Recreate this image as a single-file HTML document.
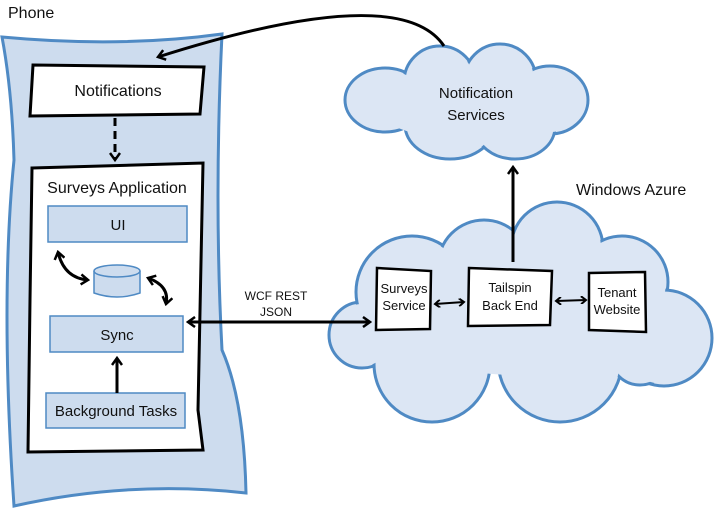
<!DOCTYPE html>
<html><head><meta charset="utf-8"><style>
html,body{margin:0;padding:0;background:#fff}
svg{display:block}
text{font-family:"Liberation Sans",sans-serif;fill:#111}
</style></head><body>
<svg width="714" height="509" viewBox="0 0 714 509" xmlns="http://www.w3.org/2000/svg">
<defs>
<marker id="ah" markerWidth="10" markerHeight="12" refX="8" refY="6" orient="auto-start-reverse" markerUnits="userSpaceOnUse">
<path d="M1,1 L8,6 L1,11" fill="none" stroke="#000" stroke-width="2.5"/></marker>
<marker id="as" markerWidth="8" markerHeight="8" refX="6" refY="4" orient="auto-start-reverse" markerUnits="userSpaceOnUse">
<path d="M1,0 L6,4 L1,8" fill="none" stroke="#000" stroke-width="2"/></marker>
</defs>
<text x="8" y="18" font-size="16">Phone</text>
<path d="M2,37 Q120,48 222,34 Q214,200 222,350 Q244,400 246,493 Q130,480 14,506 Q0,300 14,160 Q12,90 2,37Z" fill="#cddcee" stroke="#4f8ac4" stroke-width="3"/>
<path d="M33,65 L204,67 L200,114 L30,116 Z" fill="#fff" stroke="#000" stroke-width="3"/>
<text x="118" y="96" font-size="16" text-anchor="middle">Notifications</text>
<line x1="115" y1="118" x2="115" y2="160" stroke="#000" stroke-width="3" stroke-dasharray="8,5" marker-end="url(#ah)"/>
<path d="M32,168 L203,163 L198,410 L203,450 L28,452 L30,300 Z" fill="#fff" stroke="#000" stroke-width="3"/>
<text x="117" y="193" font-size="16" text-anchor="middle">Surveys Application</text>
<rect x="48" y="206" width="139" height="36" fill="#cddcee" stroke="#4f8ac4" stroke-width="1.5"/>
<text x="118" y="230" font-size="15" text-anchor="middle">UI</text>
<rect x="50" y="316" width="133" height="36" fill="#cddcee" stroke="#4f8ac4" stroke-width="1.5"/>
<text x="117" y="340" font-size="15" text-anchor="middle">Sync</text>
<rect x="46" y="393" width="139" height="35" fill="#cddcee" stroke="#4f8ac4" stroke-width="1.5"/>
<text x="116" y="416" font-size="15" text-anchor="middle">Background Tasks</text>
<path d="M94,271 L94,293 Q117,301 140,293 L140,271" fill="#cddcee" stroke="#4f8ac4" stroke-width="1.5"/>
<ellipse cx="117" cy="271" rx="23" ry="6" fill="#cddcee" stroke="#4f8ac4" stroke-width="1.5"/>
<path d="M58,252 Q64,278 88,280" fill="none" stroke="#000" stroke-width="3" marker-start="url(#ah)" marker-end="url(#ah)"/>
<path d="M148,278 Q170,286 166,304" fill="none" stroke="#000" stroke-width="3" marker-start="url(#ah)" marker-end="url(#ah)"/>
<line x1="117" y1="393" x2="117" y2="358" stroke="#000" stroke-width="3" marker-end="url(#ah)"/>
<!-- notification cloud -->
<g stroke="#4f8ac4" stroke-width="3" fill="#dce6f4">
<ellipse cx="385" cy="100" rx="40" ry="32"/><circle cx="440" cy="82" r="36"/><circle cx="500" cy="80" r="36"/>
<ellipse cx="550" cy="100" rx="38" ry="34"/><ellipse cx="450" cy="125" rx="45" ry="34"/><ellipse cx="515" cy="127" rx="40" ry="32"/>
</g>
<g fill="#dce6f4">
<ellipse cx="385" cy="100" rx="38" ry="30"/><circle cx="440" cy="82" r="34"/><circle cx="500" cy="80" r="34"/>
<ellipse cx="550" cy="100" rx="36" ry="32"/><ellipse cx="450" cy="125" rx="43" ry="32"/><ellipse cx="515" cy="127" rx="38" ry="30"/>
<ellipse cx="470" cy="105" rx="95" ry="35"/>
</g>
<text x="476" y="98" font-size="15" text-anchor="middle">Notification</text>
<text x="476" y="120" font-size="15" text-anchor="middle">Services</text>
<!-- azure cloud -->
<g stroke="#4f8ac4" stroke-width="3" fill="#dce6f4">
<circle cx="362" cy="335" r="33"/><circle cx="412" cy="292" r="56"/><circle cx="484" cy="266" r="46"/>
<circle cx="557" cy="248" r="46"/><circle cx="622" cy="282" r="46"/><circle cx="664" cy="338" r="48"/>
<circle cx="432" cy="364" r="58"/><circle cx="560" cy="360" r="62"/><circle cx="640" cy="355" r="30"/>
</g>
<g fill="#dce6f4">
<circle cx="362" cy="335" r="31"/><circle cx="412" cy="292" r="54"/><circle cx="484" cy="266" r="44"/>
<circle cx="557" cy="248" r="44"/><circle cx="622" cy="282" r="44"/><circle cx="664" cy="338" r="46"/>
<circle cx="432" cy="364" r="56"/><circle cx="560" cy="360" r="60"/><circle cx="640" cy="355" r="28"/>
<ellipse cx="520" cy="315" rx="150" ry="60"/>
</g>
<text x="576" y="195" font-size="16">Windows Azure</text>
<path d="M377,268 L431,271 L430,329 L376,330 Z" fill="#fff" stroke="#000" stroke-width="2.5"/>
<text x="404" y="293" font-size="13" text-anchor="middle">Surveys</text>
<text x="404" y="310" font-size="13" text-anchor="middle">Service</text>
<path d="M469,268 L552,271 L550,325 L468,326 Z" fill="#fff" stroke="#000" stroke-width="2.5"/>
<text x="510" y="292" font-size="13" text-anchor="middle">Tailspin</text>
<text x="510" y="310" font-size="13" text-anchor="middle">Back End</text>
<path d="M589,273 L645,272 L646,332 L589,330 Z" fill="#fff" stroke="#000" stroke-width="2.5"/>
<text x="617" y="297" font-size="13" text-anchor="middle">Tenant</text>
<text x="617" y="314" font-size="13" text-anchor="middle">Website</text>
<line x1="435" y1="304" x2="464" y2="302" stroke="#000" stroke-width="2" marker-start="url(#as)" marker-end="url(#as)"/>
<line x1="556" y1="301" x2="586" y2="300" stroke="#000" stroke-width="2" marker-start="url(#as)" marker-end="url(#as)"/>
<line x1="188" y1="322" x2="370" y2="322" stroke="#000" stroke-width="3" marker-start="url(#ah)" marker-end="url(#ah)"/>
<text x="276" y="300" font-size="12" text-anchor="middle">WCF REST</text>
<text x="276" y="316" font-size="12" text-anchor="middle">JSON</text>
<line x1="513" y1="262" x2="513" y2="167" stroke="#000" stroke-width="3" marker-end="url(#ah)"/>
<path d="M444,46 Q400,-20 158,57" fill="none" stroke="#000" stroke-width="3" marker-end="url(#ah)"/>
</svg>
</body></html>
